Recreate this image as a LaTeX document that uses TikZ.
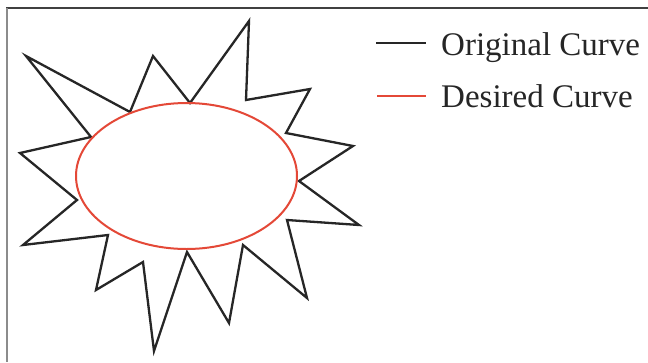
\documentclass[tikz,border=0pt]{standalone}
\usepackage{fontspec}
\setmainfont{Liberation Serif}
\definecolor{desired}{RGB}{228,72,55}
\definecolor{framedark}{RGB}{64,64,64}
\definecolor{framegray}{RGB}{140,140,140}
\tikzset{
  origline/.style={line width=2.3pt, black!85, line join=miter},
  desline/.style={line width=2pt, desired},
  legtext/.style={anchor=base west, inner sep=0pt, text=black!85, font=\fontsize{33}{38}\selectfont}
}
\begin{document}
\begin{tikzpicture}[x=1pt,y=-1pt]
\useasboundingbox (0,0) rectangle (648,362);
\fill[white] (0,0) rectangle (648,362);
% frame
\draw[framedark, line width=1.6pt] (6,8) -- (648,8);
\draw[framegray, line width=2pt] (7,8) -- (7,362);
% star (original curve)
\draw[origline] (26,56) -- (130,112) -- (153,56) -- (190,103) -- (249,21)
  -- (246,100) -- (310,89) -- (286,133) -- (353,146) -- (299,181)
  -- (359,225) -- (287,220) -- (307,298) -- (243,245) -- (229,323)
  -- (187,252) -- (154,351) -- (143,262) -- (96,290) -- (108,235)
  -- (23,245) -- (77,200) -- (20,153) -- (91,137) -- cycle;
% ellipse (desired curve)
\draw[desline] (186.5,176) ellipse [x radius=110.5, y radius=73];
% legend
\coordinate (l1a) at (376,43);
\coordinate (l1b) at (426,43);
\coordinate (l2a) at (377,96);
\coordinate (l2b) at (426,96);
\draw[origline, line width=2.2pt] (l1a) -- (l1b);
\draw[desline, line width=2.2pt] (l2a) -- (l2b);
\node[legtext] (t1) at (441,55) {Original Curve};
\node[legtext] (t2) at (441,107) {Desired Curve};
\end{tikzpicture}
\end{document}
